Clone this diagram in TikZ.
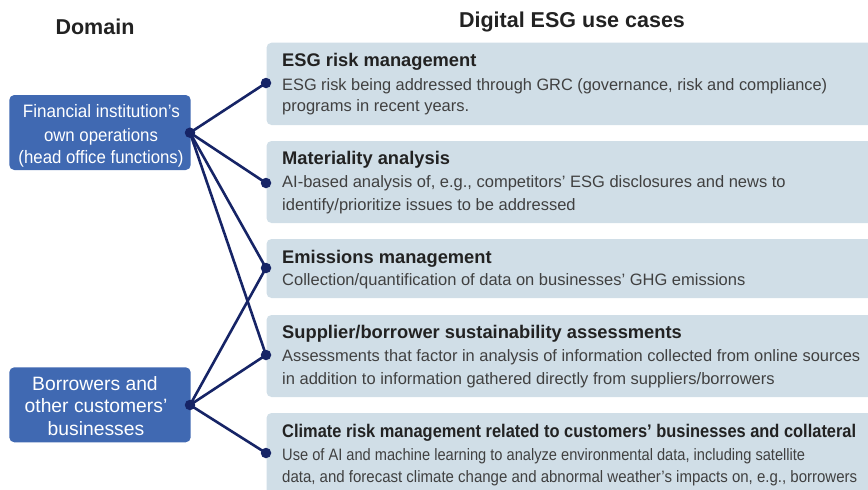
\documentclass[tikz,border=0pt]{standalone}
\usepackage{graphicx}
\usepackage{fontspec}
\setmainfont{Liberation Sans}
\definecolor{domainblue}{RGB}{64,105,178}
\definecolor{caseblue}{RGB}{208,222,231}
\definecolor{navy}{RGB}{22,36,102}
\definecolor{titlegray}{RGB}{34,34,34}
\definecolor{bodygray}{RGB}{64,64,64}
% set a line to a given width, squeezing it horizontally only
\newcommand{\fitline}[2]{\resizebox{#1}{\height}{#2}}
\begin{document}
\begin{tikzpicture}[x=1pt,y=-1pt,
  domainbox/.style={fill=domainblue, rounded corners=5pt},
  casebox/.style={fill=caseblue, rounded corners=5pt},
  hdr/.style={font=\fontsize{21.5}{24}\selectfont\bfseries, text=titlegray, inner sep=0pt, anchor=base},
  dtext/.style={font=\fontsize{18}{20}\selectfont, text=white, inner sep=0pt, anchor=base},
  btext/.style={font=\fontsize{19.3}{22}\selectfont, text=white, inner sep=0pt, anchor=base},
  ttl/.style={font=\fontsize{18.3}{22}\selectfont\bfseries, text=titlegray, inner sep=0pt, anchor=base west},
  body/.style={font=\fontsize{16.5}{22}\selectfont, text=bodygray, inner sep=0pt, anchor=base west},
  link/.style={draw=navy, line width=2.6pt},
  dot/.style={circle, fill=navy, inner sep=0pt, minimum size=10.5pt}]
\useasboundingbox (0,0) rectangle (868,490);
\clip (0,0) rectangle (868,490);

% column headings
\node[hdr] (hdom) at (95,34) {Domain};
\node[hdr] (huse) at (572,27) {Digital ESG use cases};

% domain boxes
\path[domainbox] (9.3,95) rectangle (190.7,170);
\node[dtext] (f1) at (101.5,117.3) {\fitline{157pt}{Financial institution’s}};
\node[dtext] (f2) at (101,141) {\fitline{114pt}{own operations}};
\node[dtext] (f3) at (101,163.3) {\fitline{165pt}{(head office functions)}};

\path[domainbox] (9.3,367.3) rectangle (190.7,442.3);
\node[btext] (b1) at (95,390.7) {Borrowers and};
\node[btext] (b2) at (96,412.7) {other customers’};
\node[btext] (b3) at (96,435) {businesses};

% use-case boxes (running off the right and bottom edges)
\path[casebox] (266.5,42.7) rectangle (890,125);
\path[casebox] (266.5,141) rectangle (890,223);
\path[casebox] (266.5,239) rectangle (890,298);
\path[casebox] (266.5,315) rectangle (890,397);
\path[casebox] (266.5,413) rectangle (890,510);

\node[ttl] (t1) at (282,66.7) {ESG risk management};
\node[body] (d1a) at (282,90) {\fitline{545pt}{ESG risk being addressed through GRC (governance, risk and compliance)}};
\node[body] (d1b) at (282,111.7) {programs in recent years.};

\node[ttl] (t2) at (282,164.3) {Materiality analysis};
\node[body] (d2a) at (282,187.7) {AI-based analysis of, e.g., competitors’ ESG disclosures and news to};
\node[body] (d2b) at (282,210) {identify/prioritize issues to be addressed};

\node[ttl] (t3) at (282,263.3) {Emissions management};
\node[body] (d3a) at (282,285) {Collection/quantification of data on businesses’ GHG emissions};

\node[ttl] (t4) at (282,338.3) {Supplier/borrower sustainability assessments};
\node[body] (d4a) at (282,361.7) {\fitline{578pt}{Assessments that factor in analysis of information collected from online sources}};
\node[body] (d4b) at (282,384.3) {in addition to information gathered directly from suppliers/borrowers};

\node[ttl] (t5) at (282,437.3) {\fitline{574pt}{Climate risk management related to customers’ businesses and collateral}};
\node[body] (d5a) at (282,460) {\fitline{523pt}{Use of AI and machine learning to analyze environmental data, including satellite}};
\node[body] (d5b) at (282,482.3) {\fitline{575pt}{data, and forecast climate change and abnormal weather’s impacts on, e.g., borrowers}};

% connector end points
\node[dot] (fd) at (190,132.7) {};
\node[dot] (bd) at (190,405) {};
\node[dot] (c1) at (266,83) {};
\node[dot] (c2) at (266,183) {};
\node[dot] (c3) at (266,268) {};
\node[dot] (c4) at (266,355) {};
\node[dot] (c5) at (266,453) {};

% links from each domain to its use cases
\draw[link] (fd.center) -- (c1.center);
\draw[link] (fd.center) -- (c2.center);
\draw[link] (fd.center) -- (c3.center);
\draw[link] (fd.center) -- (c4.center);
\draw[link] (bd.center) -- (c3.center);
\draw[link] (bd.center) -- (c4.center);
\draw[link] (bd.center) -- (c5.center);
\end{tikzpicture}
\end{document}
